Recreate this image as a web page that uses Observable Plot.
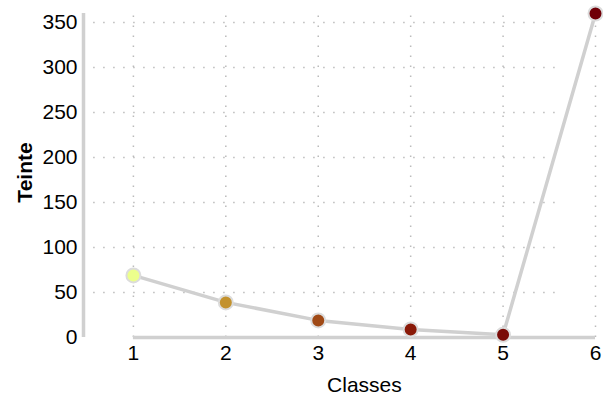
<!DOCTYPE html>
<html>
<head>
<meta charset="utf-8">
<script src="https://cdn.jsdelivr.net/npm/d3@7"></script>
<script src="https://cdn.jsdelivr.net/npm/@observablehq/plot@0.6"></script>
<style>
  html, body { margin: 0; padding: 0; background: #fff; }
  #chart svg { font-family: "Liberation Sans", Arial, sans-serif; }
</style>
</head>
<body>
<div id="chart"></div>
<script>
const classes = [1, 2, 3, 4, 5, 6];
const teinte = [69, 39, 19, 9, 3, 360];
const colors = ["#ecff8c", "#c3922e", "#a04a16", "#8a1a08", "#7a0c08", "#700008"];
const yTicks = [0, 50, 100, 150, 200, 250, 300, 350];
const xLabel = "Classes";
const yLabel = "Teinte";

const data = classes.map((c, i) => ({ c, v: teinte[i], col: colors[i] }));
const xDomain = [0.46, 6];
const yDomain = [0, 360];
const dots = { stroke: "#bbb", strokeWidth: 1.5, strokeDasharray: "1.5,8.5" };

const chart = Plot.plot({
  width: 603,
  height: 399,
  marginLeft: 83,
  marginRight: 8,
  marginTop: 13,
  marginBottom: 62,
  style: { fontSize: "21px", fontFamily: "Liberation Sans, Arial, sans-serif", color: "#000" },
  x: { type: "linear", domain: xDomain, axis: null },
  y: { domain: yDomain, axis: null },
  marks: [
    Plot.ruleY(yTicks.filter(d => d > 0), { x1: 0.57, x2: 5.6, ...dots }),
    Plot.ruleX(classes, { y1: 0, y2: yDomain[1], ...dots }),
    Plot.ruleX([xDomain[0]], { y1: 0, y2: yDomain[1], stroke: "#d0d0d0", strokeWidth: 3.5 }),
    Plot.ruleY([0], { x1: d3.min(classes), x2: d3.max(classes), stroke: "#d0d0d0", strokeWidth: 3.5 }),
    Plot.text(yTicks, { y: d => d, frameAnchor: "left", dx: -6, textAnchor: "end", text: d => String(d), fontSize: 21, fill: "#000" }),
    Plot.text(classes, { x: d => d, frameAnchor: "bottom", dy: 16, lineAnchor: "middle", text: d => String(d), fontSize: 21, fill: "#000" }),
    Plot.line(data, { x: "c", y: "v", stroke: "#d0d0d0", strokeWidth: 3.5 }),
    Plot.dot(data, { x: "c", y: "v", r: 7, fill: "col", stroke: "#dcdcdc", strokeWidth: 2 }),
    Plot.text([xLabel], { x: d3.mean(classes), frameAnchor: "bottom", dy: 48, lineAnchor: "middle", text: d => d, fontSize: 21 }),
    Plot.text([yLabel], { frameAnchor: "left", dx: -58, dy: -3, rotate: -90, textAnchor: "middle", text: d => d, fontSize: 21, fontWeight: "bold" })
  ]
});
document.getElementById("chart").appendChild(chart);
</script>
</body>
</html>
